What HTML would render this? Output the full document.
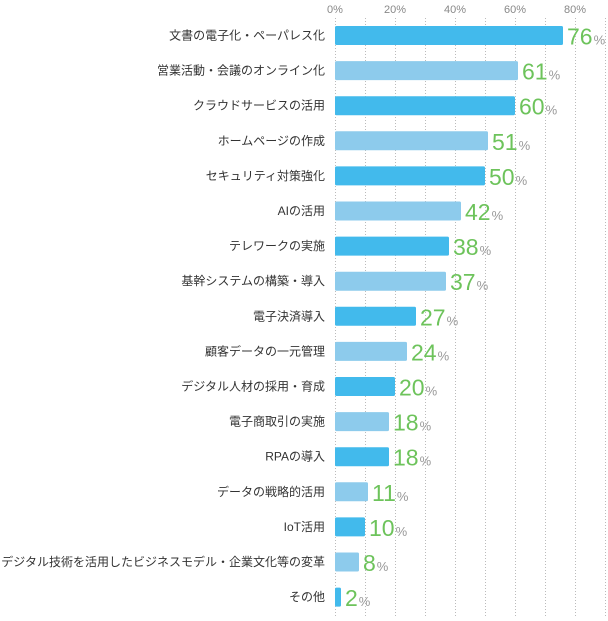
<!DOCTYPE html>
<html><head><meta charset="utf-8"><style>
body{margin:0;background:#fff;width:608px;height:616px;overflow:hidden;font-family:"Liberation Sans","Noto Sans CJK JP",sans-serif}
</style></head><body>
<svg id="c" width="608" height="616" xmlns="http://www.w3.org/2000/svg"></svg>
<script>
const categories=["文書の電子化・ペーパレス化","営業活動・会議のオンライン化","クラウドサービスの活用","ホームページの作成","セキュリティ対策強化","AIの活用","テレワークの実施","基幹システムの構築・導入","電子決済導入","顧客データの一元管理","デジタル人材の採用・育成","電子商取引の実施","RPAの導入","データの戦略的活用","IoT活用","デジタル技術を活用したビジネスモデル・企業文化等の変革","その他"];
const values=[76,61,60,51,50,42,38,37,27,24,20,18,18,11,10,8,2];
const tickValues=[0,20,40,60,80];
const ns="http://www.w3.org/2000/svg",svg=document.getElementById('c');
const x=v=>335+v*3, y=i=>35.5+i*35.1;
function mk(t,a,txt){const e=document.createElementNS(ns,t);for(const k in a)e.setAttribute(k,a[k]);if(txt!=null)e.textContent=txt;svg.appendChild(e);return e;}
for(let g=0;g<=90;g+=10){const l=mk('line',{x1:x(g)+.5,x2:x(g)+.5,y1:18,y2:616,stroke:'#bbb','stroke-dasharray':'1,2'});

}
tickValues.forEach(t=>{const e=mk('text',{x:x(t),y:13,'text-anchor':'middle','font-size':11,fill:'#888'},t+'%');

});
categories.forEach((c,i)=>{
const lb=mk('text',{x:325,y:y(i)+4,'text-anchor':'end','font-size':12,fill:'#333'},c);


const r=mk('rect',{x:x(0),y:y(i)-9.5,width:x(values[i])-x(0),height:19,rx:1.5,fill:i%2?'#8dcbec':'#42baec'});


const v=mk('text',{x:x(values[i])+4,y:y(i)+9,'font-size':23,fill:'#6dc35b'});


const n=document.createElementNS(ns,'tspan');n.textContent=values[i];v.appendChild(n);
const p=document.createElementNS(ns,'tspan');p.textContent='%';p.setAttribute('font-size',13);p.setAttribute('fill','#999');p.setAttribute('dx',1);v.appendChild(p);
});
</script>
</body></html>
